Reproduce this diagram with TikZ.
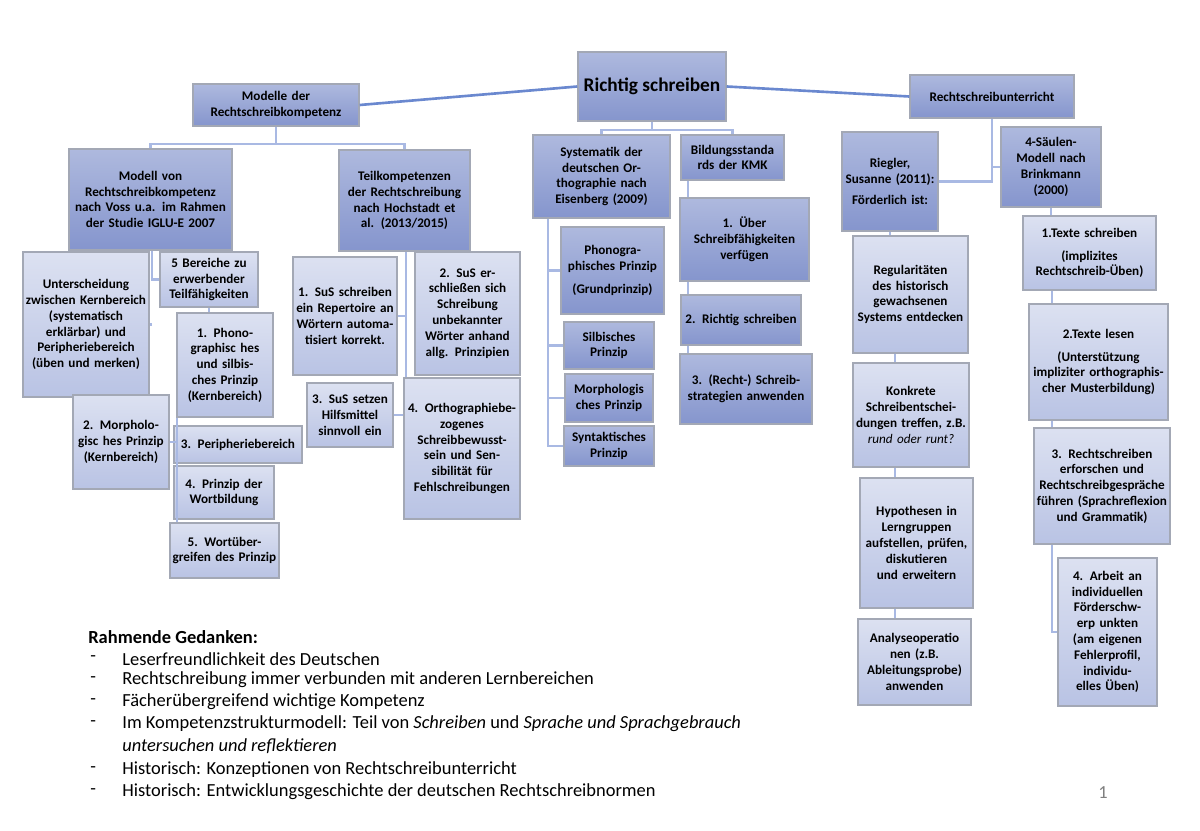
\documentclass[tikz,border=0pt]{standalone}
\usepackage{fontspec}
\setmainfont{Carlito}
\usetikzlibrary{positioning,calc}
\definecolor{dkA}{HTML}{AEB9DE}
\definecolor{dkB}{HTML}{8595CD}
\definecolor{ltA}{HTML}{DCE1F1}
\definecolor{ltB}{HTML}{B9C3E4}
\definecolor{edge}{HTML}{A3A8B5}
\definecolor{conncol}{HTML}{A9B9E3}
\definecolor{maincol}{HTML}{6A88CF}
\tikzset{
  box/.style={draw=edge, line width=0.8pt, align=center, inner sep=1pt,
    font=\fontsize{7.5}{9}\selectfont\bfseries},
  dark/.style={box, top color=dkA, bottom color=dkB},
  light/.style={box, top color=ltA, bottom color=ltB},
  conn/.style={draw=conncol, line width=1.3pt},
  mainline/.style={draw=maincol, line width=1.5pt},
  listtext/.style={anchor=west, inner sep=0pt, font=\fontsize{10.5}{12}\selectfont},
}
% box from corner (x1,y1) to (x2,y2) in pixels
\newcommand\bx[7]{%
  \pgfmathsetlengthmacro\bxw{(#5-#3)*0.02cm}%
  \pgfmathsetlengthmacro\bxt{(#5-#3)*0.02cm-3pt}%
  \pgfmathsetlengthmacro\bxh{(#6-#4)*0.02cm}%
  \node[#2, minimum width=\bxw, text width=\bxt, minimum height=\bxh] (#1) at ({(#3+#5)/2},{(#4+#6)/2}) {#7};}
\begin{document}
\begin{tikzpicture}[x=0.02cm, y=-0.02cm]
\useasboundingbox (0,0) rectangle (1200,831);

% spine coordinates
\coordinate (sp1) at (152,0);
\coordinate (sp2) at (177,0);
\coordinate (sp3) at (406,0);
\coordinate (sp4) at (548,0);
\coordinate (sp5) at (688,0);
\coordinate (sp6) at (895,0);
\coordinate (sp7) at (1052,0);

% top level
\bx{root}{dark}{578}{52}{726}{121}{\fontsize{11}{13}\selectfont\mdseries\bfseries Richtig schreiben}
\bx{modelle}{dark}{193}{84}{359}{126}{Modelle der Rechtschreibkompetenz}
\bx{rsu}{dark}{910}{75}{1074}{118}{Rechtschreibunterricht}

% second level
\bx{modell}{dark}{69}{149}{232}{250}{Modell von Rechtschreibkompetenz nach Voss u.a. im Rahmen der Studie IGLU-E 2007}
\bx{teil}{dark}{339}{150}{470}{251}{Teilkompetenzen der Rechtschreibung nach Hochstadt et al. (2013/2015)}
\bx{syst}{dark}{533}{135}{670}{218}{Systematik der deutschen Orthographie nach Eisenberg (2009)}
\bx{bild}{dark}{681}{135}{784}{180}{Bildungsstanda rds der KMK}
\bx{riegler}{dark}{842}{132}{938}{231}{Riegler, Susanne (2011):\\[3pt] Förderlich ist:}
\bx{saeulen}{dark}{1001}{127}{1101}{207}{4-Säulen-Modell nach Brinkmann (2000)}

% Voss
\bx{unter}{light}{23}{252}{149}{397}{Unterscheidung zwischen Kernbereich (systematisch erklärbar) und Peripheriebereich (üben und merken)}
\bx{fuenf}{light}{160}{252}{258}{307}{5 Bereiche zu erwerbender Teilfähigkeiten}
\bx{phon1}{light}{177}{313}{273}{417}{1. Phonographisc hes und silbisches Prinzip (Kernbereich)}
\bx{morph2}{light}{73}{395}{169}{489}{2. Morphologisc hes Prinzip (Kernbereich)}
\bx{peri3}{light}{174}{426}{302}{463}{3. Peripheriebereich}
\bx{wort4}{light}{174}{466}{274}{519}{4. Prinzip der Wortbildung}
\bx{ueber5}{light}{170}{523}{279}{578}{5. Wortübergreifen des Prinzip}

% Hochstadt
\bx{sus1}{light}{293}{257}{397}{375}{1. SuS schreiben ein Repertoire an Wörtern automatisiert korrekt.}
\bx{sus2}{light}{415}{252}{520}{375}{2. SuS erschließen sich Schreibung unbekannter Wörter anhand allg. Prinzipien}
\bx{sus3}{light}{307}{383}{393}{447}{3. SuS setzen Hilfsmittel sinnvoll ein}
\bx{ortho4}{light}{404}{378}{520}{519}{4. Orthographiebe-zogenes Schreibbewusst-sein und Sensibilität für Fehlschreibungen}

% Eisenberg
\bx{phono}{dark}{561}{227}{664}{314}{Phonogra-phisches Prinzip\\[4pt] (Grundprinzip)}
\bx{silb}{dark}{564}{322}{654}{369}{Silbisches Prinzip}
\bx{morphs}{dark}{565}{374}{653}{422}{Morphologis ches Prinzip}
\bx{synt}{dark}{564}{426}{654}{466}{Syntaktisches Prinzip}

% KMK
\bx{ueber1}{dark}{680}{198}{809}{281}{1. Über Schreibfähigkeiten verfügen}
\bx{richt2}{dark}{681}{295}{801}{345}{2. Richtig schreiben}
\bx{recht3}{dark}{680}{354}{812}{424}{3. (Recht-) Schreibstrategien anwenden}

% Riegler
\bx{regul}{light}{853}{236}{968}{353}{Regularitäten des historisch gewachsenen Systems entdecken}
\bx{konk}{light}{853}{363}{969}{467}{Konkrete Schreibentschei-dungen treffen, z.B. \mdseries\itshape rund oder runt?}
\bx{hypo}{light}{860}{478}{973}{608}{Hypothesen in Lerngruppen aufstellen, prüfen, diskutieren und erweitern}
\bx{analy}{light}{858}{619}{971}{705}{Analyseoperatio nen (z.B. Ableitungsprobe) anwenden}

% Brinkmann
\bx{texte1}{light}{1023}{216}{1156}{290}{1.Texte schreiben\\[4pt] (implizites Rechtschreib-Üben)}
\bx{texte2}{light}{1029}{304}{1168}{420}{2.Texte lesen\\[4pt] (Unterstützung impliziter orthographischer Musterbildung)}
\bx{rs3}{light}{1034}{428}{1170}{544}{3. Rechtschreiben erforschen und Rechtschreibgespräche führen (Sprachreflexion und Grammatik)}
\bx{arbeit4}{light}{1058}{558}{1157}{706}{4. Arbeit an individuellen Förderschwerp unkten (am eigenen Fehlerprofil, individuelles Üben)}

% connectors
\begin{scope}[on background layer/.try]
\end{scope}
\draw[mainline] (root.west) -- (modelle.east);
\draw[mainline] (root.east) -- (rsu.west);
\draw[conn] (modelle.south) -- ++(0,17) -| (modell.north);
\draw[conn] (modelle.south) -- ++(0,17) -| (teil.north);
\draw[conn] (root.south) -- ++(0,8) -| (syst.north);
\draw[conn] (root.south) -- ++(0,8) -| (bild.north);
\draw[conn] (modell.south -| sp1) |- (fuenf.west);
\draw[conn] (sp1 |- unter.east) -- (unter.east);
\draw[conn] (fuenf.south) -- (fuenf.south |- phon1.north);
\draw[conn] (phon1.south -| sp2) -- (ueber5.north -| sp2);
\draw[conn] (morph2.east) -- (morph2.east -| sp2);
\draw[conn] (teil.south -| sp3) -- (ortho4.north -| sp3);
\draw[conn] (sus1.east) -- (sus1.east -| sp3);
\draw[conn] (sus3.east) -- (sus3.east -| ortho4.west);
\draw[conn] (syst.south -| sp4) |- (synt.west);
\draw[conn] (sp4 |- phono.west) -- (phono.west);
\draw[conn] (sp4 |- silb.west) -- (silb.west);
\draw[conn] (sp4 |- morphs.west) -- (morphs.west);
\draw[conn] (bild.south -| sp5) -- (ueber1.north -| sp5);
\draw[conn] (ueber1.south -| sp5) -- (richt2.north -| sp5);
\draw[conn] (richt2.south -| sp5) -- (recht3.north -| sp5);
\draw[conn] (rsu.south) |- (riegler.east);
\draw[conn] (rsu.south |- saeulen.west) -- (saeulen.west);
\draw[conn] (riegler.south) -- (riegler.south |- regul.north);
\draw[conn] (regul.south -| sp6) -- (konk.north -| sp6);
\draw[conn] (konk.south -| sp6) -- (hypo.north -| sp6);
\draw[conn] (hypo.south -| sp6) -- (analy.north -| sp6);
\draw[conn] (saeulen.south) -- (saeulen.south |- texte1.north);
\draw[conn] (texte1.south -| sp7) -- (texte2.north -| sp7);
\draw[conn] (texte2.south -| sp7) -- (rs3.north -| sp7);
\draw[conn] (rs3.south -| sp7) |- (arbeit4.west);

% framing thoughts
\node[listtext, font=\fontsize{10.5}{12}\selectfont\bfseries] (rahmen) at (88,637) {Rahmende Gedanken:};
\foreach \yy/\txt in {659/Leserfreundlichkeit des Deutschen,
    680/Rechtschreibung immer verbunden mit anderen Lernbereichen,
    702/Fächerübergreifend wichtige Kompetenz,
    724/{Im Kompetenzstrukturmodell: Teil von \textit{Schreiben} und \textit{Sprache und Sprachgebrauch}},
    770/Historisch: Konzeptionen von Rechtschreibunterricht,
    792/Historisch: Entwicklungsgeschichte der deutschen Rechtschreibnormen}{
  \node[listtext] at (90,\yy) {-};
  \node[listtext] at (122,\yy) {\txt};
}
\node[listtext] (wrap) at (122,746) {\textit{untersuchen und reflektieren}};
\node[listtext, text=gray] (pnum) at (1098,793) {1};
\end{tikzpicture}
\end{document}
